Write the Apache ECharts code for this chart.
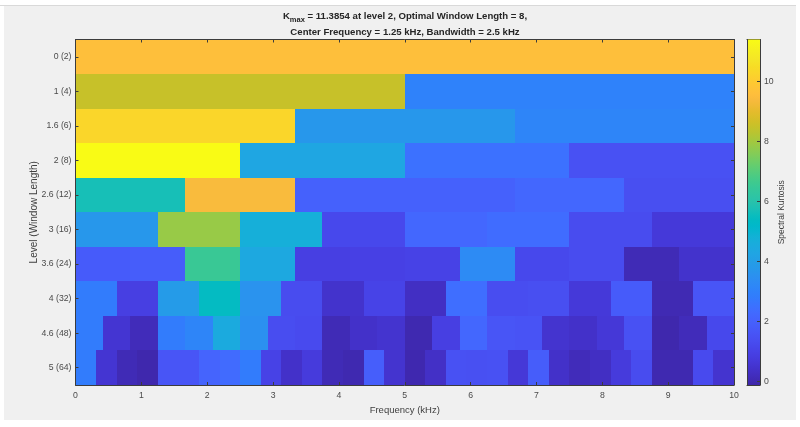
<!DOCTYPE html>
<html>
<head>
<meta charset="utf-8">
<style>
  html, body { margin: 0; padding: 0; background: #fff; }
  #chart { width: 800px; height: 427px; }
</style>
<script src="https://cdn.jsdelivr.net/npm/echarts@6/dist/echarts.min.js"></script>
</head>
<body>
<div id="chart"></div>
<script>
const levels = ["0 (2)", "1 (4)", "1.6 (6)", "2 (8)", "2.6 (12)", "3 (16)", "3.6 (24)", "4 (32)", "4.6 (48)", "5 (64)"];
const colorbarTicks = [0, 2, 4, 6, 8, 10];
const colorLimits = [-0.12, 11.3854];

// kurtosis per level, left to right
const level0 = [9.6];
const level1 = [8.5, 3.0];
const level16 = [10.3, 3.7, 3.1];
const level2 = [11.3854, 4.3, 2.5, 1.5];
const level26 = [5.7, 9.4, 2.0, 2.0, 2.2, 1.4];
const level3 = [3.7, 7.85, 4.7, 1.2, 2.2, 2.35, 1.3, 0.7];
const level36 = [1.8, 1.85, 6.5, 4.4, 0.9, 0.95, 1.0, 3.3, 1.2, 1.3, 0.1, 0.45];
const level4 = [2.8, 0.9, 3.9, 5.4, 3.6, 1.3, 0.45, 1.05, 0.3, 2.4, 1.35, 1.4, 0.7, 1.8, 0.05, 1.6];
const level46 = [2.8, 0.55, 0.15, 2.8, 3.1, 4.5, 3.5, 1.35, 1.25, 0.1, 0.4, 0.5, 0.0, 0.9, 2.2, 1.6, 1.55, 0.5, 0.4, 0.65, 1.5, -0.05, 0.15, 1.2];
const level5 = [2.8, 0.55, 0.1, -0.05, 1.6, 1.6, 2.1, 2.3, 2.8, 1.0, 0.4, 0.75, 0.1, 0.0, 1.9, 0.5, -0.02, 0.35, 1.5, 1.45, 1.5, 0.65, 1.85, 0.4, 0.15, 0.3, 0.75, 1.3, 0.0, 0.0, 1.25, 0.5];
const rows = [level0, level1, level16, level2, level26, level3, level36, level4, level46, level5];

// parula
const parula = [
  [0.2422,0.1504,0.6603],[0.2504,0.1650,0.7076],[0.2578,0.1818,0.7511],[0.2647,0.1978,0.7952],
  [0.2706,0.2147,0.8364],[0.2751,0.2342,0.8710],[0.2783,0.2559,0.8991],[0.2803,0.2782,0.9221],
  [0.2813,0.3006,0.9414],[0.2810,0.3228,0.9579],[0.2795,0.3447,0.9717],[0.2760,0.3667,0.9829],
  [0.2699,0.3892,0.9906],[0.2602,0.4123,0.9952],[0.2440,0.4358,0.9988],[0.2206,0.4603,0.9973],
  [0.1963,0.4847,0.9892],[0.1834,0.5074,0.9798],[0.1786,0.5289,0.9682],[0.1764,0.5499,0.9520],
  [0.1687,0.5703,0.9359],[0.1540,0.5902,0.9218],[0.1460,0.6091,0.9079],[0.1380,0.6276,0.8973],
  [0.1248,0.6459,0.8883],[0.1113,0.6635,0.8763],[0.0952,0.6798,0.8598],[0.0689,0.6948,0.8394],
  [0.0297,0.7082,0.8163],[0.0036,0.7203,0.7917],[0.0067,0.7312,0.7660],[0.0433,0.7411,0.7394],
  [0.0964,0.7500,0.7120],[0.1408,0.7584,0.6842],[0.1717,0.7670,0.6554],[0.1938,0.7758,0.6251],
  [0.2161,0.7843,0.5923],[0.2470,0.7918,0.5567],[0.2906,0.7973,0.5188],[0.3406,0.8008,0.4789],
  [0.3909,0.8029,0.4354],[0.4456,0.8024,0.3909],[0.5044,0.7993,0.3480],[0.5616,0.7942,0.3045],
  [0.6174,0.7876,0.2612],[0.6720,0.7793,0.2227],[0.7242,0.7698,0.1910],[0.7738,0.7598,0.1646],
  [0.8203,0.7498,0.1535],[0.8634,0.7406,0.1596],[0.9035,0.7330,0.1774],[0.9393,0.7288,0.2100],
  [0.9728,0.7298,0.2394],[0.9956,0.7434,0.2371],[0.9970,0.7659,0.2199],[0.9952,0.7861,0.1967],
  [0.9892,0.8136,0.1816],[0.9786,0.8386,0.1630],[0.9676,0.8639,0.1452],[0.9610,0.8890,0.1537],
  [0.9597,0.9135,0.1423],[0.9628,0.9373,0.1265],[0.9691,0.9606,0.1064],[0.9769,0.9839,0.0805]
].map(c => "rgb(" + c.map(v => Math.round(v * 255)).join(",") + ")");

const cells = [];
rows.forEach((row, r) => {
  row.forEach((v, i) => {
    cells.push([i * 10 / row.length, (i + 1) * 10 / row.length, r, v]);
  });
});

const TEXT = "#404040";
const FONT = "'Liberation Sans', Arial, sans-serif";
const axisLine = { show: true, onZero: false, lineStyle: { color: "#3c3c3c", width: 1 } };
const tick = { show: true, inside: true, length: 3, lineStyle: { color: "#3c3c3c", width: 1 } };
const label = { color: "#4a4a4a", fontFamily: FONT, fontSize: 8.7 };

const chart = echarts.init(document.getElementById("chart"));

chart.setOption({
  animation: false,
  backgroundColor: "#ffffff",
  textStyle: { fontFamily: FONT },
  graphic: [
    { type: "rect", z: -1, shape: { x: 4, y: 6, width: 792, height: 414 }, style: { fill: "#f0f0f0" } },
    { type: "rect", z: -1, shape: { x: 0, y: 5, width: 796, height: 1 }, style: { fill: "#d9d9d9" } }
  ],
  title: {
    left: 400,
    top: 3,
    textAlign: "center",
    text: "{b|K}{sub|max}{b| = 11.3854 at level 2, Optimal Window Length = 8,}\n{b|Center Frequency = 1.25 kHz, Bandwidth = 2.5 kHz}",
    textStyle: {
      rich: {
        b: { fontFamily: FONT, fontSize: 9.6, fontWeight: "bold", color: "#262626", lineHeight: 16 },
        sub: { fontFamily: FONT, fontSize: 7.5, fontWeight: "bold", color: "#262626", lineHeight: 16, verticalAlign: "bottom", padding: [5, 0, 0, 0] }
      }
    }
  },
  grid: [
    { left: 75.5, top: 39.5, width: 658.5, height: 345.5 },
    { left: 747, top: 39.5, width: 13, height: 345.5 }
  ],
  xAxis: [
    {
      type: "value", gridIndex: 0, min: 0, max: 10, interval: 1, z: 10,
      name: "Frequency (kHz)", nameLocation: "middle", nameGap: 14,
      nameTextStyle: { color: TEXT, fontFamily: FONT, fontSize: 9.5 },
      axisLine, axisTick: tick, splitLine: { show: false },
      axisLabel: Object.assign({ margin: 6 }, label)
    },
    {
      type: "value", gridIndex: 0, position: "top", min: 0, max: 10, interval: 1, z: 10,
      axisLine, axisTick: tick, splitLine: { show: false }, axisLabel: { show: false }
    },
    {
      type: "value", gridIndex: 1, min: 0, max: 1,
      axisLine, axisTick: { show: false }, splitLine: { show: false }, axisLabel: { show: false }
    },
    {
      type: "value", gridIndex: 1, position: "top", min: 0, max: 1,
      axisLine, axisTick: { show: false }, splitLine: { show: false }, axisLabel: { show: false }
    }
  ],
  yAxis: [
    {
      type: "category", gridIndex: 0, data: levels, inverse: true, z: 10,
      name: "Level (Window Length)", nameLocation: "middle", nameGap: 36, nameRotate: 90, nameMoveOverlap: false,
      nameTextStyle: { color: TEXT, fontFamily: FONT, fontSize: 10 },
      axisLine, axisTick: Object.assign({ alignWithLabel: true }, tick),
      axisLabel: Object.assign({ margin: 4, interval: 0 }, label)
    },
    {
      type: "category", gridIndex: 0, data: levels, inverse: true, position: "right", z: 10,
      axisLine, axisTick: Object.assign({ alignWithLabel: true }, tick), axisLabel: { show: false }
    },
    {
      type: "value", gridIndex: 1, position: "right", min: colorLimits[0], max: colorLimits[1], z: 10,
      name: "Spectral Kurtosis", nameLocation: "middle", nameGap: 16, nameRotate: 90,
      nameTextStyle: { color: TEXT, fontFamily: FONT, fontSize: 8.5 },
      axisLine, splitLine: { show: false },
      axisTick: Object.assign({ customValues: colorbarTicks }, tick),
      axisLabel: Object.assign({ customValues: colorbarTicks, margin: 4 }, label)
    },
    {
      type: "value", gridIndex: 1, position: "left", min: colorLimits[0], max: colorLimits[1], z: 10,
      axisLine, axisTick: { show: false }, splitLine: { show: false }, axisLabel: { show: false }
    }
  ],
  visualMap: {
    show: false,
    type: "continuous",
    seriesIndex: 0,
    dimension: 3,
    min: colorLimits[0],
    max: colorLimits[1],
    inRange: { color: parula }
  },
  series: [
    {
      type: "custom",
      xAxisIndex: 0,
      yAxisIndex: 0,
      encode: { x: [0, 1], y: 2 },
      data: cells,
      renderItem: (params, api) => {
        const start = api.coord([api.value(0), api.value(2)]);
        const end = api.coord([api.value(1), api.value(2)]);
        const h = api.size([0, 1])[1];
        // snap to whole pixels so neighbouring cells leave no seam
        const x0 = Math.round(start[0]);
        const x1 = Math.round(end[0]);
        const y0 = Math.round(start[1] - h / 2);
        const y1 = Math.round(start[1] + h / 2);
        return {
          type: "rect",
          shape: { x: x0, y: y0, width: x1 - x0, height: y1 - y0 },
          style: { fill: api.visual("color") }
        };
      }
    },
    {
      // colorbar
      type: "custom",
      xAxisIndex: 2,
      yAxisIndex: 2,
      encode: { y: 1 },
      data: [[0, colorLimits[0], colorLimits[1]]],
      renderItem: (params, api) => {
        const top = api.coord([0, api.value(2)]);
        const bottom = api.coord([1, api.value(1)]);
        return {
          type: "rect",
          shape: { x: top[0], y: top[1], width: bottom[0] - top[0], height: bottom[1] - top[1] },
          style: {
            fill: new echarts.graphic.LinearGradient(0, 1, 0, 0,
              parula.map((color, i) => ({ offset: i / (parula.length - 1), color })))
          }
        };
      }
    }
  ]
});
</script>
</body>
</html>
